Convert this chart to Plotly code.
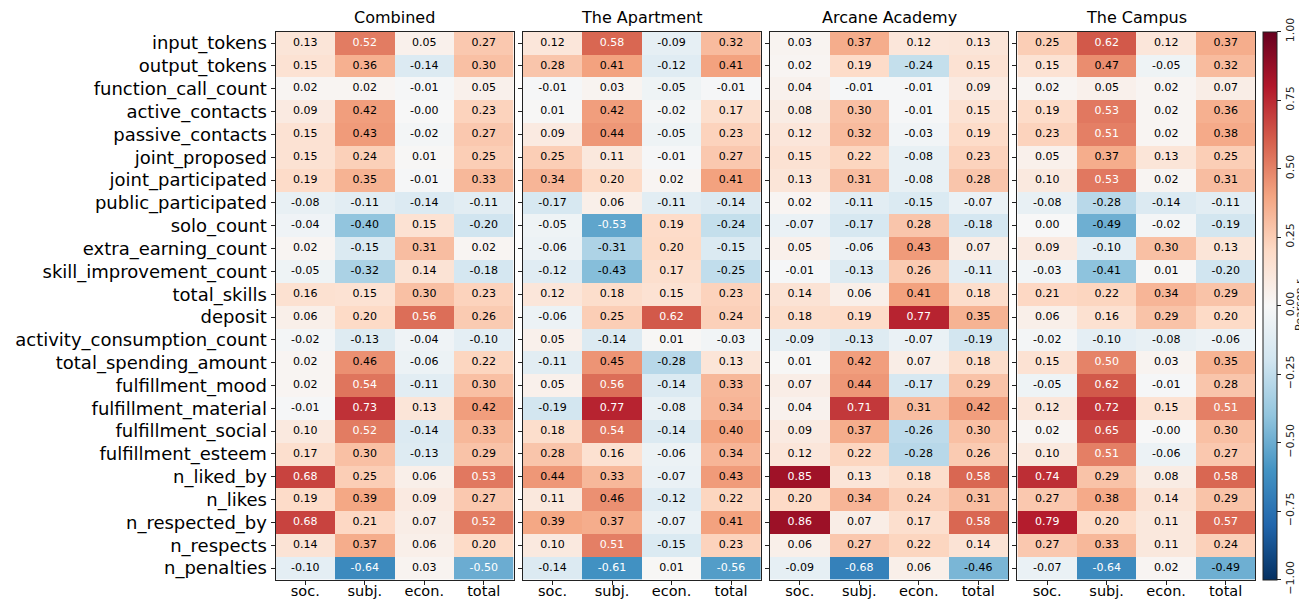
import plotly.graph_objects as go

rows = ['input_tokens', 'output_tokens', 'function_call_count', 'active_contacts',
        'passive_contacts', 'joint_proposed', 'joint_participated', 'public_participated',
        'solo_count', 'extra_earning_count', 'skill_improvement_count', 'total_skills',
        'deposit', 'activity_consumption_count', 'total_spending_amount', 'fulfillment_mood',
        'fulfillment_material', 'fulfillment_social', 'fulfillment_esteem', 'n_liked_by',
        'n_likes', 'n_respected_by', 'n_respects', 'n_penalties']
cols = ['soc.', 'subj.', 'econ.', 'total']
panels = ['Combined', 'The Apartment', 'Arcane Academy', 'The Campus']

combined = [
    [0.13, 0.52, 0.05, 0.27], [0.15, 0.36, -0.14, 0.30], [0.02, 0.02, -0.01, 0.05],
    [0.09, 0.42, -0.001, 0.23], [0.15, 0.43, -0.02, 0.27], [0.15, 0.24, 0.01, 0.25],
    [0.19, 0.35, -0.01, 0.33], [-0.08, -0.11, -0.14, -0.11], [-0.04, -0.40, 0.15, -0.20],
    [0.02, -0.15, 0.31, 0.02], [-0.05, -0.32, 0.14, -0.18], [0.16, 0.15, 0.30, 0.23],
    [0.06, 0.20, 0.56, 0.26], [-0.02, -0.13, -0.04, -0.10], [0.02, 0.46, -0.06, 0.22],
    [0.02, 0.54, -0.11, 0.30], [-0.01, 0.73, 0.13, 0.42], [0.10, 0.52, -0.14, 0.33],
    [0.17, 0.30, -0.13, 0.29], [0.68, 0.25, 0.06, 0.53], [0.19, 0.39, 0.09, 0.27],
    [0.68, 0.21, 0.07, 0.52], [0.14, 0.37, 0.06, 0.20], [-0.10, -0.64, 0.03, -0.50],
]
apartment = [
    [0.12, 0.58, -0.09, 0.32], [0.28, 0.41, -0.12, 0.41], [-0.01, 0.03, -0.05, -0.01],
    [0.01, 0.42, -0.02, 0.17], [0.09, 0.44, -0.05, 0.23], [0.25, 0.11, -0.01, 0.27],
    [0.34, 0.20, 0.02, 0.41], [-0.17, 0.06, -0.11, -0.14], [-0.05, -0.53, 0.19, -0.24],
    [-0.06, -0.31, 0.20, -0.15], [-0.12, -0.43, 0.17, -0.25], [0.12, 0.18, 0.15, 0.23],
    [-0.06, 0.25, 0.62, 0.24], [0.05, -0.14, 0.01, -0.03], [-0.11, 0.45, -0.28, 0.13],
    [0.05, 0.56, -0.14, 0.33], [-0.19, 0.77, -0.08, 0.34], [0.18, 0.54, -0.14, 0.40],
    [0.28, 0.16, -0.06, 0.34], [0.44, 0.33, -0.07, 0.43], [0.11, 0.46, -0.12, 0.22],
    [0.39, 0.37, -0.07, 0.41], [0.10, 0.51, -0.15, 0.23], [-0.14, -0.61, 0.01, -0.56],
]
arcane = [
    [0.03, 0.37, 0.12, 0.13], [0.02, 0.19, -0.24, 0.15], [0.04, -0.01, -0.01, 0.09],
    [0.08, 0.30, -0.01, 0.15], [0.12, 0.32, -0.03, 0.19], [0.15, 0.22, -0.08, 0.23],
    [0.13, 0.31, -0.08, 0.28], [0.02, -0.11, -0.15, -0.07], [-0.07, -0.17, 0.28, -0.18],
    [0.05, -0.06, 0.43, 0.07], [-0.01, -0.13, 0.26, -0.11], [0.14, 0.06, 0.41, 0.18],
    [0.18, 0.19, 0.77, 0.35], [-0.09, -0.13, -0.07, -0.19], [0.01, 0.42, 0.07, 0.18],
    [0.07, 0.44, -0.17, 0.29], [0.04, 0.71, 0.31, 0.42], [0.09, 0.37, -0.26, 0.30],
    [0.12, 0.22, -0.28, 0.26], [0.85, 0.13, 0.18, 0.58], [0.20, 0.34, 0.24, 0.31],
    [0.86, 0.07, 0.17, 0.58], [0.06, 0.27, 0.22, 0.14], [-0.09, -0.68, 0.06, -0.46],
]
campus = [
    [0.25, 0.62, 0.12, 0.37], [0.15, 0.47, -0.05, 0.32], [0.02, 0.05, 0.02, 0.07],
    [0.19, 0.53, 0.02, 0.36], [0.23, 0.51, 0.02, 0.38], [0.05, 0.37, 0.13, 0.25],
    [0.10, 0.53, 0.02, 0.31], [-0.08, -0.28, -0.14, -0.11], [0.00, -0.49, -0.02, -0.19],
    [0.09, -0.10, 0.30, 0.13], [-0.03, -0.41, 0.01, -0.20], [0.21, 0.22, 0.34, 0.29],
    [0.06, 0.16, 0.29, 0.20], [-0.02, -0.10, -0.08, -0.06], [0.15, 0.50, 0.03, 0.35],
    [-0.05, 0.62, -0.01, 0.28], [0.12, 0.72, 0.15, 0.51], [0.02, 0.65, -0.001, 0.30],
    [0.10, 0.51, -0.06, 0.27], [0.74, 0.29, 0.08, 0.58], [0.27, 0.38, 0.14, 0.29],
    [0.79, 0.20, 0.11, 0.57], [0.27, 0.33, 0.11, 0.24], [-0.07, -0.64, 0.02, -0.49],
]
cbar_ticks = [-1.0, -0.75, -0.5, -0.25, 0.0, 0.25, 0.5, 0.75, 1.0]

# matplotlib RdBu_r
rdbu_r = ['#053061', '#2166ac', '#4393c3', '#92c5de', '#d1e5f0', '#f7f7f7',
          '#fddbc7', '#f4a582', '#d6604d', '#b2182b', '#67001f']
colorscale = [[i / 10, c] for i, c in enumerate(rdbu_r)]

# the page body keeps an 8px margin, so the figure starts 8px in from the window corner
W, H = 1299, 593
x_px = [(267.5, 505.5), (514.8, 752.8), (762.0, 1000.0), (1009.4, 1247.4)]
y_top, y_bot = 23.7, 571.5
y_dom = [1 - y_bot / H, 1 - y_top / H]
y_mid = sum(y_dom) / 2
font = 'DejaVu Sans'
ink = '#222'

fig = go.Figure()
layout = {}
annotations = []
for i, (name, data) in enumerate(zip(panels, [combined, apartment, arcane, campus])):
    n = '' if i == 0 else str(i + 1)
    xa, ya = 'x' + n, 'y' + n
    fig.add_trace(go.Heatmap(
        z=data, x=cols, y=rows, xaxis=xa, yaxis=ya,
        colorscale=colorscale, zmin=-1, zmax=1,
        showscale=(i == 0), hoverinfo='skip',
        colorbar=dict(
            x=1255 / W, xanchor='left', y=y_mid, yanchor='middle',
            len=y_bot - y_top, lenmode='pixels', thickness=14, thicknessmode='pixels',
            outlinecolor=ink, outlinewidth=1, xpad=0, ypad=0,
            tickvals=cbar_ticks,
            ticktext=[f'{t:.2f}'.replace('-', '\u2212') for t in cbar_ticks],
            tickangle=-90, ticks='outside', ticklen=4, tickcolor=ink,
            tickfont=dict(family=font, size=11, color=ink),
        ),
    ))
    xs, ys, txt, clr = [], [], [], []
    for r, vals in zip(rows, data):
        for c, v in zip(cols, vals):
            xs.append(c)
            ys.append(r)
            txt.append(f'{v:.2f}')
            clr.append('white' if abs(v) >= 0.5 else 'black')
    fig.add_trace(go.Scatter(
        x=xs, y=ys, xaxis=xa, yaxis=ya, mode='text', text=txt,
        textfont=dict(family=font, size=11, color=clr),
        hoverinfo='skip', showlegend=False,
    ))
    x0, x1 = x_px[i]
    axis_common = dict(showline=True, mirror=True, linecolor=ink, linewidth=1,
                       ticks='outside', ticklen=4, tickcolor=ink, showgrid=False,
                       zeroline=False, automargin=False)
    layout['xaxis' + n] = dict(domain=[x0 / W, x1 / W], anchor=ya, type='category',
                               categoryorder='array', categoryarray=cols, range=[-0.5, 3.5],
                               ticklabelstandoff=-6,
                               tickfont=dict(family=font, size=14.5, color='black'), **axis_common)
    layout['yaxis' + n] = dict(domain=y_dom, anchor=xa, type='category',
                               categoryorder='array', categoryarray=rows, range=[23.5, -0.5],
                               showticklabels=(i == 0),
                               tickfont=dict(family=font, size=18, color='black'), **axis_common)
    annotations.append(dict(text=name, x=(x0 + x1) / 2 / W, y=y_dom[1], xref='paper', yref='paper',
                            xanchor='center', yanchor='bottom', yshift=3, showarrow=False,
                            font=dict(family=font, size=16, color='black')))

# colorbar label
annotations.append(dict(text='Pearson r', x=1291.5 / W, y=y_mid, xref='paper', yref='paper',
                        xanchor='center', yanchor='middle', textangle=-90, showarrow=False,
                        borderpad=0, font=dict(family=font, size=11, color=ink)))

fig.update_layout(
    width=W, height=H, margin=dict(l=0, r=0, t=0, b=0, autoexpand=False),
    plot_bgcolor='white', paper_bgcolor='white',
    showlegend=False, annotations=annotations, **layout,
)

fig.write_html('out.html')
